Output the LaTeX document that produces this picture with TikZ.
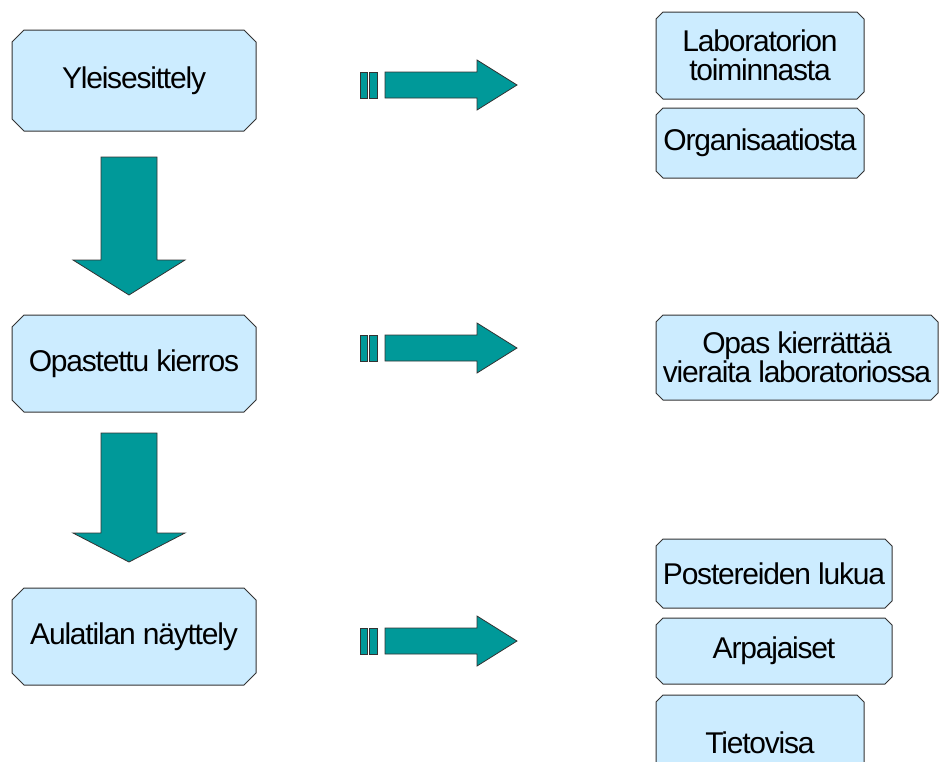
\documentclass[tikz,border=0pt]{standalone}
\usepackage{fontspec}
\setmainfont{Liberation Sans}[LetterSpace=-4]
\usetikzlibrary{shapes.misc}
\definecolor{boxfill}{HTML}{CCECFF}
\definecolor{teal}{HTML}{009999}
\definecolor{edge}{HTML}{333333}
\tikzset{
  lbox/.style={chamfered rectangle, chamfered rectangle xsep=6pt, chamfered rectangle ysep=6pt,
    draw=edge, line width=1pt, fill=boxfill, inner sep=0pt, align=center,
    font=\fontsize{30}{29}\selectfont},
  rbox/.style={lbox, chamfered rectangle xsep=3.5pt, chamfered rectangle ysep=3.5pt},
  blockarrow/.style={draw=edge, line width=0.8pt, fill=teal, line join=miter},
}
\newcommand{\rightblock}[2]{%
  \coordinate (#1) at (360,#2);
  \begin{scope}[shift={(#1)}]
    \draw[blockarrow] (0,-13) rectangle (7,13);
    \draw[blockarrow] (9,-13) rectangle (17,13);
    \draw[blockarrow] (25,-13) -- (117,-13) -- (117,-25) -- (157,0) -- (117,25) -- (117,13) -- (25,13) -- cycle;
  \end{scope}}
\begin{document}
\begin{tikzpicture}[x=1pt,y=-1pt]
\useasboundingbox (0,0) rectangle (939,761);
\clip (0,0) rectangle (939,761);
% left column
\node[lbox, minimum width=244pt, minimum height=101pt] (yl) at (134,80.5) {Yleisesittely};
\node[lbox, minimum width=244pt, minimum height=97pt] (op) at (134,363.5) {Opastettu kierros};
\node[lbox, minimum width=244pt, minimum height=97pt] (au) at (134,636.5) {Aulatilan näyttely};
% down arrows
\draw[blockarrow] (101,157) -- (157,157) -- (157,260) -- (185,260) -- (129,295) -- (73,260) -- (101,260) -- cycle;
\draw[blockarrow] (101,433) -- (157,433) -- (157,533) -- (185,533) -- (129,562) -- (73,533) -- (101,533) -- cycle;
% right arrows
\rightblock{ra}{85}
\rightblock{rb}{348}
\rightblock{rc}{641}
% right column
\node[rbox, minimum width=208pt, minimum height=87pt] (lab) at (760,55.5) {Laboratorion\\toiminnasta};
\node[rbox, minimum width=208pt, minimum height=70pt] (org) at (760,143) {Organisaatiosta};
\node[rbox, minimum width=282pt, minimum height=85pt] (opas) at (797,357.5) {Opas kierrättää\\vieraita laboratoriossa};
\node[rbox, minimum width=236pt, minimum height=69pt] (post) at (774,573.5) {Postereiden lukua};
\node[rbox, minimum width=236pt, minimum height=66pt] (arp) at (774,651) {Arpajaiset};
\node[rbox, minimum width=208pt, minimum height=95pt] (tie) at (760,742.5) {Tietovisa};
\end{tikzpicture}
\end{document}
